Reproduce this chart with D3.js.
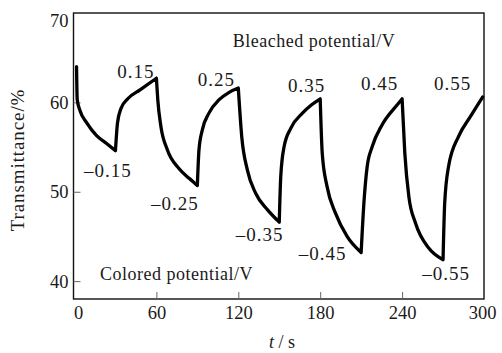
<!DOCTYPE html>
<html>
<head>
<meta charset="utf-8">
<script src="https://cdn.jsdelivr.net/npm/d3@7"></script>
<style>
  body { margin: 0; background: #fff; }
  text { font-family: "Liberation Serif", "Times New Roman", serif; fill: #1a1a1a; }
</style>
</head>
<body>
<div id="chart"></div>
<script>
// transmittance (%), time in s
var times = [1.5, 2, 4, 9, 16, 23.5, 30, 31.5, 34, 39, 48, 60,
  61, 63.3, 68, 76.5, 84, 90, 91.2, 93.6, 98.5, 106, 113, 120,
  122.5, 126.7, 132.8, 141.3, 150, 151.1, 153.5, 158.4, 167, 173.5, 180,
  181.5, 185, 191.2, 199.7, 210, 212, 214.4, 218, 225.4, 236.3, 240,
  242, 245, 249.8, 259.5, 270, 271.2, 274, 281.4, 290, 299];
var trans = [64.0, 60.3, 59.1, 57.7, 56.3, 55.4, 54.6, 57.7, 59.3, 60.4, 61.4, 62.7,
  60.3, 57.3, 54.7, 52.6, 51.5, 50.7, 54.7, 56.9, 58.8, 60.3, 61.1, 61.6,
  56.2, 52.4, 49.8, 48.0, 46.6, 51.7, 55.0, 57.1, 58.8, 59.7, 60.4,
  54.3, 50.6, 47.6, 45.0, 43.2, 48.7, 52.8, 55.0, 57.5, 59.7, 60.4,
  54.3, 49.4, 46.5, 43.7, 42.4, 48.7, 52.8, 56.2, 58.4, 60.6];

var xTicks = [0, 60, 120, 180, 240, 300];
var yTicks = [40, 50, 60, 70];

// potential labels and where they sit (t, transmittance)
var bleachLabels = ["0.15", "0.25", "0.35", "0.45", "0.55"];
var bleachAt = [[45, 62.7], [104, 61.8], [170, 61.2], [223.5, 61.4], [277, 61.4]];
var colorLabels = ["\u20130.15", "\u20130.25", "\u20130.35", "\u20130.45", "\u20130.55"];
var colorAt = [[24.5, 51.7], [73.5, 48.0], [135.7, 44.5], [181.8, 42.4], [272.3, 40.1]];

var width = 502, height = 353;
var svg = d3.select("#chart").append("svg")
  .attr("width", width)
  .attr("height", height);

var x = d3.scaleLinear().domain([0, 300]).range([74.5, 484]);
var y = d3.scaleLinear().domain([38, 70]).range([299, 13]);

// frame
svg.append("rect")
  .attr("x", 73.5).attr("y", y(70))
  .attr("width", x(300) - 73.5).attr("height", y(38) - y(70))
  .attr("fill", "none").attr("stroke", "#111").attr("stroke-width", 1.4);

// axes with inward ticks
var xAxis = svg.append("g")
  .attr("transform", `translate(0,${y(38)})`)
  .call(d3.axisBottom(x).tickValues(xTicks).tickSizeInner(-7).tickSizeOuter(0).tickPadding(7));
var yAxis = svg.append("g")
  .attr("transform", "translate(73.5,0)")
  .call(d3.axisLeft(y).tickValues(yTicks).tickSizeInner(-7).tickSizeOuter(0).tickPadding(5));

[xAxis, yAxis].forEach(function(g) {
  g.select(".domain").remove();
  g.selectAll(".tick line").attr("stroke", "#666").attr("stroke-width", 1);
  g.selectAll(".tick text")
    .attr("font-size", "18.5px")
    .style("font-family", '"Liberation Serif", serif')
    .attr("fill", "#1a1a1a");
});
// end labels pulled inside as in the original
xAxis.selectAll(".tick text").attr("dx", function(d) { return d == 0 ? 3.5 : d == 300 ? -2 : 0; });
yAxis.selectAll(".tick text").attr("dy", function(d) { return d == 70 ? "0.72em" : "0.32em"; });
yAxis.selectAll(".tick line").filter(function(d) { return d == 70; }).remove();
xAxis.selectAll(".tick line").filter(function(d) { return d == 0 || d == 300; }).remove();

// split the curve at each switch so corners stay sharp
var pts = times.map(function(t, i) { return [t, trans[i]]; });
var pieces = [], cur = [pts[0]];
for (var i = 1; i < pts.length; i++) {
  cur.push(pts[i]);
  if (i < pts.length - 1) {
    var a = pts[i][1] - pts[i - 1][1], b = pts[i + 1][1] - pts[i][1];
    if (a * b < 0) { pieces.push(cur); cur = [pts[i]]; }
  }
}
pieces.push(cur);

var line = d3.line()
  .x(function(d) { return x(d[0]); })
  .y(function(d) { return y(d[1]); })
  .curve(d3.curveMonotoneX);

svg.append("path")
  .attr("d", pieces.map(function(p) { return line(p); }).join(""))
  .attr("fill", "none")
  .attr("stroke", "#000")
  .attr("stroke-width", 3.3)
  .attr("stroke-linejoin", "round")
  .attr("stroke-linecap", "round");

// potential labels
svg.selectAll("text.bleach")
  .data(bleachLabels)
  .enter().append("text")
  .attr("class", "bleach")
  .attr("x", function(d, i) { return x(bleachAt[i][0]); })
  .attr("y", function(d, i) { return y(bleachAt[i][1]); })
  .attr("text-anchor", "middle")
  .attr("font-size", "19px")
  .attr("letter-spacing", "1px")
  .text(function(d) { return d; });

svg.selectAll("text.colored")
  .data(colorLabels)
  .enter().append("text")
  .attr("class", "colored")
  .attr("x", function(d, i) { return x(colorAt[i][0]); })
  .attr("y", function(d, i) { return y(colorAt[i][1]); })
  .attr("text-anchor", "middle")
  .attr("font-size", "19px")
  .attr("letter-spacing", "1px")
  .text(function(d) { return d; });

svg.append("text")
  .attr("x", x(116)).attr("y", y(66.2))
  .attr("font-size", "18px")
  .attr("letter-spacing", "0.5px")
  .attr("fill", "#333")
  .text("Bleached potential/V");

svg.append("text")
  .attr("x", x(18.7)).attr("y", y(40.1))
  .attr("font-size", "18px")
  .attr("letter-spacing", "0.5px")
  .attr("fill", "#333")
  .text("Colored potential/V");

// axis titles
svg.append("text")
  .attr("transform", "translate(24,160) rotate(-90)")
  .attr("text-anchor", "middle")
  .attr("font-size", "19px")
  .attr("letter-spacing", "0.9px")
  .attr("fill", "#333")
  .text("Transmittance/%");

var xt = svg.append("text")
  .attr("x", 282).attr("y", 348)
  .attr("text-anchor", "middle")
  .attr("font-size", "18px")
  .attr("fill", "#333");
xt.append("tspan").attr("font-style", "italic").text("t");
xt.append("tspan").text(" / s");
</script>
</body>
</html>
